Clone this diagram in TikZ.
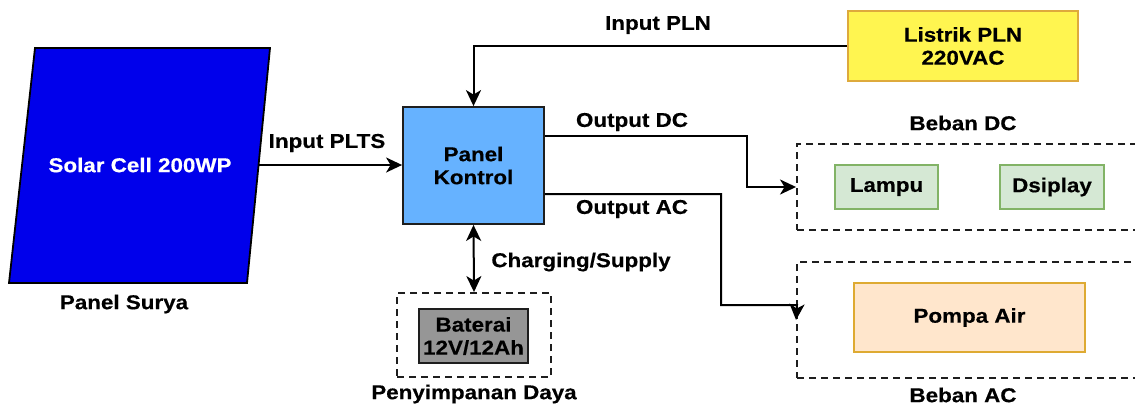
\documentclass[tikz,border=0pt]{standalone}
\usepackage{fontspec}
\setmainfont{Liberation Sans}[FakeStretch=1.12, BoldFeatures={FakeBold=0.4}]
\usetikzlibrary{arrows.meta}
\definecolor{solarblue}{RGB}{0,0,235}
\definecolor{ctrlblue}{RGB}{102,178,255}
\definecolor{plnyellow}{RGB}{255,245,80}
\definecolor{plnborder}{RGB}{222,170,60}
\definecolor{greenfill}{RGB}{213,232,212}
\definecolor{greenborder}{RGB}{130,179,102}
\definecolor{orangefill}{RGB}{255,230,204}
\definecolor{orangeborder}{RGB}{222,170,50}
\definecolor{battgray}{RGB}{150,150,150}
\definecolor{linegray}{RGB}{30,30,30}
\begin{document}
\begin{tikzpicture}[x=1pt,y=-1pt,
  every node/.style={font=\fontsize{20}{23}\selectfont\bfseries, inner sep=0pt},
  box/.style={draw=linegray, line width=1.8pt, align=center},
  groupbox/.style={draw=linegray, line width=1.9pt, dash pattern=on 7pt off 5pt},
  conn/.style={draw=black, line width=2pt, -{Stealth[length=16pt,width=15pt,inset=4.5pt]}},
  biconn/.style={draw=black, line width=2pt, {Stealth[length=16pt,width=15pt,inset=4.5pt]}-{Stealth[length=16pt,width=15pt,inset=4.5pt]}},
  lbl/.style={text=black}
]
\useasboundingbox (0,0) rectangle (1135,408);
\clip (0,0) rectangle (1135,408);

% Solar panel (parallelogram)
\draw[fill=solarblue, draw=black, line width=1.8pt] (35,48) -- (270,48) -- (247,283) -- (9,283) -- cycle;
\node[text=white] (solar) at (140,165) {Solar Cell 200WP};
\coordinate (solarE) at (258,165);
\node[lbl] (surya) at (124,304) {Panel Surya};

% Panel Kontrol
\node[box, fill=ctrlblue, minimum width=141pt, minimum height=117pt] (kontrol) at (473.5,165.5) {Panel\\Kontrol};

% Listrik PLN
\node[box, draw=plnborder, fill=plnyellow, minimum width=230pt, minimum height=70pt] (pln) at (963,46) {Listrik PLN\\220VAC};

% Beban DC group
\node[groupbox, minimum width=403pt, minimum height=86pt] (bebandc) at (998.5,187) {};
\node[lbl] (lblbebandc) at (963,123) {Beban DC};
\node[box, draw=greenborder, fill=greenfill, minimum width=103pt, minimum height=44pt] (lampu) at (886.5,187) {Lampu};
\node[box, draw=greenborder, fill=greenfill, minimum width=104pt, minimum height=44pt] (display) at (1052,187) {Dsiplay};

% Beban AC group
\node[groupbox, minimum width=403pt, minimum height=116pt] (bebanac) at (998.5,320) {};
\node[lbl] (lblbebanac) at (963,395) {Beban AC};
\node[box, draw=orangeborder, fill=orangefill, minimum width=231pt, minimum height=69pt] (pompa) at (969.5,317.5) {Pompa Air};

% Storage group
\node[groupbox, minimum width=154pt, minimum height=84pt] (storage) at (474,335) {};
\node[box, fill=battgray, minimum width=109pt, minimum height=54pt] (baterai) at (473.5,336) {Baterai\\12V/12Ah};
\node[lbl] (lblstorage) at (474,394) {Penyimpanan Daya};

% Connectors
\draw[conn] (solarE) -- (kontrol.west |- solarE);
\node[lbl] (lblplts) at (327,143) {Input PLTS};

\draw[conn] (pln.west) -| (kontrol.north);
\node[lbl] (lblpln) at (658,25) {Input PLN};

\draw[conn] (kontrol.east |- 0,136) -- (747,136) -- (747,187) -- (bebandc.west);
\node[lbl] (lbldc) at (632,122) {Output DC};

\draw[conn] (kontrol.east |- 0,194) -- (721,194) -- (721,305) -- (797,305) -- (bebanac.west);
\node[lbl] (lblac) at (632,209) {Output AC};

\draw[biconn] (kontrol.south) -- (storage.north);
\node[lbl] (lblcharge) at (581,262) {Charging/Supply};
\end{tikzpicture}
\end{document}
